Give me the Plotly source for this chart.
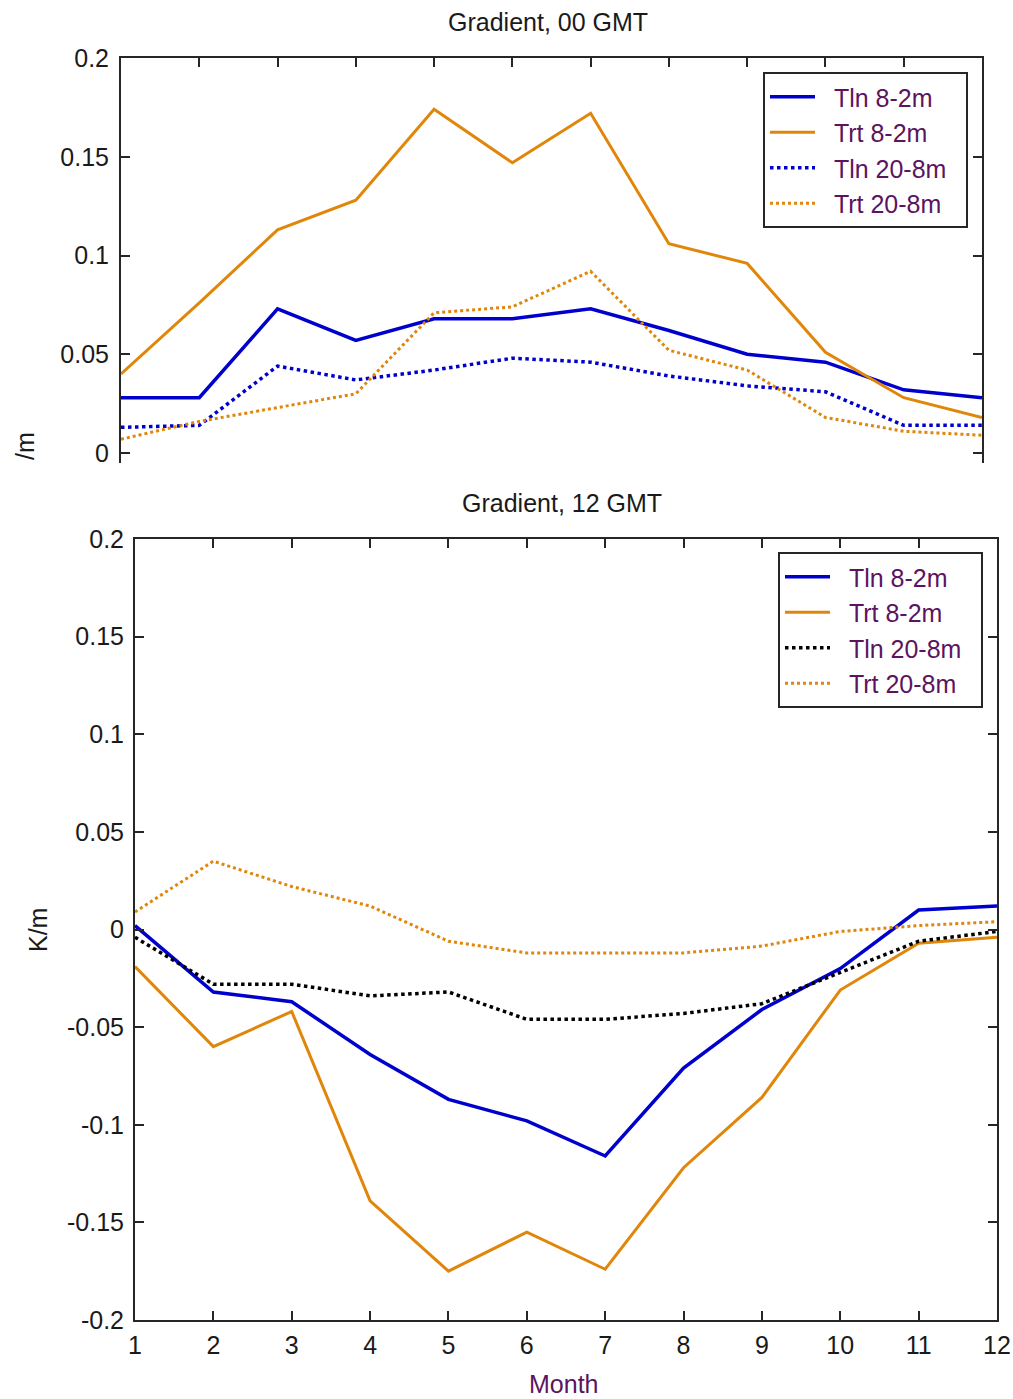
import plotly.graph_objects as go

months = [1, 2, 3, 4, 5, 6, 7, 8, 9, 10, 11, 12]

# Gradient, 00 GMT
tln82_00 = [0.028, 0.028, 0.073, 0.057, 0.068, 0.068, 0.073, 0.062, 0.050, 0.046, 0.032, 0.028]
trt82_00 = [0.040, 0.076, 0.113, 0.128, 0.174, 0.147, 0.172, 0.106, 0.096, 0.051, 0.028, 0.018]
tln208_00 = [0.013, 0.014, 0.044, 0.037, 0.042, 0.048, 0.046, 0.039, 0.034, 0.031, 0.014, 0.014]
trt208_00 = [0.007, 0.016, 0.023, 0.030, 0.071, 0.074, 0.092, 0.052, 0.042, 0.018, 0.011, 0.009]

# Gradient, 12 GMT
tln82_12 = [0.002, -0.032, -0.037, -0.064, -0.087, -0.098, -0.116, -0.071, -0.041, -0.020, 0.010, 0.012]
trt82_12 = [-0.019, -0.060, -0.042, -0.139, -0.175, -0.155, -0.174, -0.122, -0.086, -0.031, -0.007, -0.004]
tln208_12 = [-0.004, -0.028, -0.028, -0.034, -0.032, -0.046, -0.046, -0.043, -0.038, -0.022, -0.006, -0.001]
trt208_12 = [0.009, 0.035, 0.022, 0.012, -0.006, -0.012, -0.012, -0.012, -0.0085, -0.001, 0.002, 0.004]

series_names = ["Tln 8-2m", "Trt 8-2m", "Tln 20-8m", "Trt 20-8m"]

ytick_top_vals = [0, 0.05, 0.1, 0.15, 0.2]
ytick_top_text = ["0", "0.05", "0.1", "0.15", "0.2"]
ytick_bot_vals = [-0.2, -0.15, -0.1, -0.05, 0, 0.05, 0.1, 0.15, 0.2]
ytick_bot_text = ["-0.2", "-0.15", "-0.1", "-0.05", "0", "0.05", "0.1", "0.15", "0.2"]
xtick_text = [str(m) for m in months]

W, H = 1013, 1399
BLUE = "#0000CC"
ORANGE = "#E0860A"
BLACK = "#000000"
FRAME = "#262626"
TXT = "#1a1a1a"
LEGTXT = "#5c1460"
FONT = "Liberation Sans, Arial, sans-serif"
FS = 25
PAD = "\u00a0\u00a0"


def px_x(p):
    return p / W


def px_y(p):
    return 1 - p / H


fig = go.Figure()

top_styles = [(BLUE, "solid", 3.5), (ORANGE, "solid", 3), (BLUE, "dot", 3.5), (ORANGE, "dot", 3)]
bot_styles = [(BLUE, "solid", 3.5), (ORANGE, "solid", 3), (BLACK, "dot", 3.5), (ORANGE, "dot", 3)]

for name, ys, (c, d, w) in zip(series_names, [tln82_00, trt82_00, tln208_00, trt208_00], top_styles):
    fig.add_trace(go.Scatter(x=months, y=ys, mode="lines", name=PAD + name + PAD,
                             line=dict(color=c, dash=d, width=w),
                             xaxis="x", yaxis="y", legend="legend"))

for name, ys, (c, d, w) in zip(series_names, [tln82_12, trt82_12, tln208_12, trt208_12], bot_styles):
    fig.add_trace(go.Scatter(x=months, y=ys, mode="lines", name=PAD + name + PAD,
                             line=dict(color=c, dash=d, width=w),
                             xaxis="x2", yaxis="y2", legend="legend2"))

axis_common = dict(showline=True, linecolor=FRAME, linewidth=2, ticks="inside",
                   ticklen=9, tickwidth=2, tickcolor=FRAME, showgrid=False,
                   zeroline=False, automargin=False,
                   tickfont=dict(family=FONT, size=FS, color=TXT))

legend_common = dict(bgcolor="white", bordercolor=FRAME, borderwidth=2,
                     font=dict(family=FONT, size=FS, color=LEGTXT),
                     xanchor="right", yanchor="top", itemwidth=45,
                     tracegroupgap=0)

fig.update_layout(
    width=W, height=H,
    margin=dict(l=0, r=0, t=0, b=0),
    paper_bgcolor="white", plot_bgcolor="white",
    showlegend=True,
    xaxis=dict(domain=[px_x(121), px_x(982)], range=[1, 12], side="top",
               mirror=False, tickvals=months, showticklabels=False,
               anchor="y", **axis_common),
    yaxis=dict(domain=[px_y(463), px_y(58)], range=[-0.00506, 0.2], mirror="ticks",
               tickvals=ytick_top_vals, ticktext=ytick_top_text, anchor="x",
               ticklabelstandoff=5, **axis_common),
    xaxis2=dict(domain=[px_x(135), px_x(997)], range=[1, 12], mirror="ticks",
                tickvals=months, ticktext=xtick_text, anchor="y2",
                ticklabelstandoff=2, **axis_common),
    yaxis2=dict(domain=[px_y(1320), px_y(539)], range=[-0.2, 0.2], mirror="ticks",
                tickvals=ytick_bot_vals, ticktext=ytick_bot_text, anchor="x2",
                ticklabelstandoff=4, **axis_common),
    legend=dict(x=px_x(968), y=px_y(72), **legend_common),
    legend2=dict(x=px_x(983), y=px_y(552), **legend_common),
    annotations=[
        dict(text="Gradient, 00 GMT", x=px_x(548), y=px_y(22), xref="paper", yref="paper",
             showarrow=False, xanchor="center", yanchor="middle",
             font=dict(family=FONT, size=FS, color=TXT)),
        dict(text="Gradient, 12 GMT", x=px_x(562), y=px_y(503), xref="paper", yref="paper",
             showarrow=False, xanchor="center", yanchor="middle",
             font=dict(family=FONT, size=FS, color=TXT)),
        dict(text="K/m", x=px_x(38), y=px_y(930), xref="paper", yref="paper",
             showarrow=False, xanchor="center", yanchor="middle", textangle=-90,
             font=dict(family=FONT, size=FS, color=TXT)),
        dict(text="/m", x=px_x(25), y=px_y(446), xref="paper", yref="paper",
             showarrow=False, xanchor="center", yanchor="middle", textangle=-90,
             font=dict(family=FONT, size=FS, color=TXT)),
        dict(text="Month", x=px_x(563), y=px_y(1384), xref="paper", yref="paper",
             showarrow=False, xanchor="center", yanchor="middle",
             font=dict(family=FONT, size=FS, color=LEGTXT)),
    ],
)

fig.write_html("out.html")
